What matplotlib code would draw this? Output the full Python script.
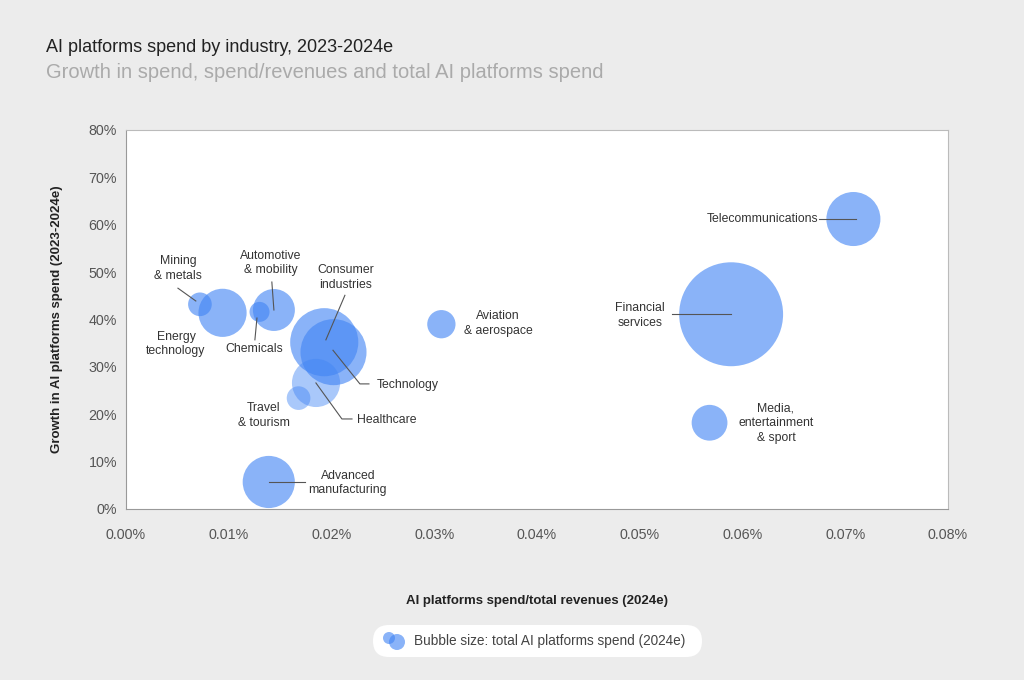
import numpy as np
import matplotlib
matplotlib.use('Agg')
import matplotlib.pyplot as plt
from matplotlib.patches import FancyBboxPatch, Circle
from matplotlib.ticker import FuncFormatter, MultipleLocator

#------------------------------------------------------------------------
# D A T A   (x in %, y in %, spend in relative units)
#------------------------------------------------------------------------
industries = ['Mining & metals', 'Energy technology', 'Chemicals', 'Automotive & mobility',
              'Consumer industries', 'Technology', 'Healthcare', 'Travel & tourism',
              'Advanced manufacturing', 'Aviation & aerospace', 'Telecommunications',
              'Financial services', 'Media, entertainment & sport']
spend_ratio = [0.0072, 0.0094, 0.0130, 0.0144, 0.0193, 0.0202, 0.0185, 0.0168,
               0.0139, 0.0307, 0.0708, 0.0589, 0.0568]
growth = [43.2, 41.4, 41.6, 42.0, 35.2, 33.1, 26.6, 23.4, 5.7, 39.0, 61.2, 41.1, 18.2]
total_spend = [1.4, 5.8, 1.0, 4.4, 11.6, 10.9, 5.8, 1.4, 6.8, 2.0, 7.3, 27.0, 3.2]

#------------------------------------------------------------------------
# L A Y O U T   /   S T Y L E
#------------------------------------------------------------------------
BLUE = '#4285F4'
BG = '#ececec'
SIZE_K = 207.4
alphas = [0.62] * len(industries)
alphas[6] = 0.45
alphas[7] = 0.45

# label text: (text, x, y, ha)
labels = [
    ('Mining\n& metals', 0.00506, 50.8, 'center'),
    ('Energy\ntechnology', 0.00487, 34.8, 'center'),
    ('Chemicals', 0.01246, 33.8, 'center'),
    ('Automotive\n& mobility', 0.01411, 51.9, 'center'),
    ('Consumer\nindustries', 0.02141, 48.9, 'center'),
    ('Technology', 0.02443, 26.2, 'left'),
    ('Healthcare', 0.02248, 18.8, 'left'),
    ('Travel\n& tourism', 0.01343, 19.8, 'center'),
    ('Advanced\nmanufacturing', 0.02160, 5.5, 'center'),
    ('Aviation\n& aerospace', 0.03620, 39.2, 'center'),
    ('Telecommunications', 0.06735, 61.2, 'right'),
    ('Financial\nservices', 0.05000, 40.9, 'center'),
    ('Media,\nentertainment\n& sport', 0.06326, 18.1, 'center'),
]
# connector lines
leaders = [
    ([0.00506, 0.0068], [46.6, 43.9]),
    ([0.01420, 0.01440], [47.9, 42.0]),
    ([0.01275, 0.01255], [40.3, 35.7]),
    ([0.02131, 0.01946], [45.1, 35.7]),
    ([0.02015, 0.02277, 0.02365], [33.5, 26.4, 26.4]),
    ([0.01849, 0.02102, 0.02200], [26.6, 19.0, 19.0]),
    ([0.01392, 0.01742], [5.7, 5.7]),
    ([0.06745, 0.07105], [61.2, 61.2]),
    ([0.05314, 0.05888], [41.1, 41.1]),
]

plt.rcParams['font.family'] = ['Liberation Sans', 'DejaVu Sans']

def main():
    fig = plt.figure(figsize=(10.24, 6.8), dpi=100)
    fig.patch.set_facecolor(BG)
    ax = fig.add_axes([0.123, 0.2515, 0.8027, 0.5574])
    ax.set_facecolor('white')

    sizes = np.array(total_spend) * SIZE_K
    for i in range(len(industries)):
        ax.scatter(spend_ratio[i], growth[i], s=sizes[i], color=BLUE,
                   alpha=alphas[i], edgecolors='none', zorder=2)

    for txt, x, y, ha in labels:
        ax.text(x, y, txt, ha=ha, va='center', fontsize=8.8, color='#333333',
                linespacing=1.3, zorder=4)
    for xs, ys in leaders:
        ax.plot(xs, ys, color='#555555', lw=0.8, zorder=3)

    ax.set_xlim(0, 0.08)
    ax.set_ylim(0, 80)
    ax.xaxis.set_major_locator(MultipleLocator(0.01))
    ax.yaxis.set_major_locator(MultipleLocator(10))
    ax.xaxis.set_major_formatter(FuncFormatter(lambda v, p: '%.2f%%' % v))
    ax.yaxis.set_major_formatter(FuncFormatter(lambda v, p: '%d%%' % v))
    ax.tick_params(length=0, labelsize=10.3, labelcolor='#555555', pad=6.5)
    ax.tick_params(axis='x', pad=14)
    for sp in ax.spines.values():
        sp.set_color('#bbbbbb')
        sp.set_linewidth(0.8)
    ax.spines['left'].set_color('#999999')
    ax.spines['bottom'].set_color('#999999')

    ax.set_xlabel('AI platforms spend/total revenues (2024e)', fontsize=9.5,
                  fontweight='bold', color='#222222', labelpad=38)
    ax.set_ylabel('Growth in AI platforms spend (2023-2024e)', fontsize=9.5,
                  fontweight='bold', color='#222222', labelpad=18)

    fig.text(46/1024, 1 - 48/680, 'AI platforms spend by industry, 2023-2024e',
             fontsize=13, color='#222222', va='center', ha='left')
    fig.text(46/1024, 1 - 73/680, 'Growth in spend, spend/revenues and total AI platforms spend',
             fontsize=14.5, color='#aaaaaa', va='center', ha='left')

    # bubble size legend in pixel space
    ov = fig.add_axes([0, 0, 1, 1], zorder=5)
    ov.set_xlim(0, 1024)
    ov.set_ylim(680, 0)
    ov.axis('off')
    ov.patch.set_alpha(0)
    ov.add_patch(FancyBboxPatch((373, 625), 329, 32,
                                boxstyle='round,pad=0,rounding_size=16',
                                facecolor='white', edgecolor='none'))
    ov.add_patch(Circle((389, 638), 6, facecolor=BLUE, alpha=0.62, edgecolor='none'))
    ov.add_patch(Circle((397, 642), 8, facecolor=BLUE, alpha=0.62, edgecolor='none'))
    ov.text(414, 641, 'Bubble size: total AI platforms spend (2024e)', fontsize=9.8,
            color='#444444', va='center', ha='left')

    fig.savefig('out.png', dpi=100, facecolor=BG)

if __name__ == '__main__':
    main()
